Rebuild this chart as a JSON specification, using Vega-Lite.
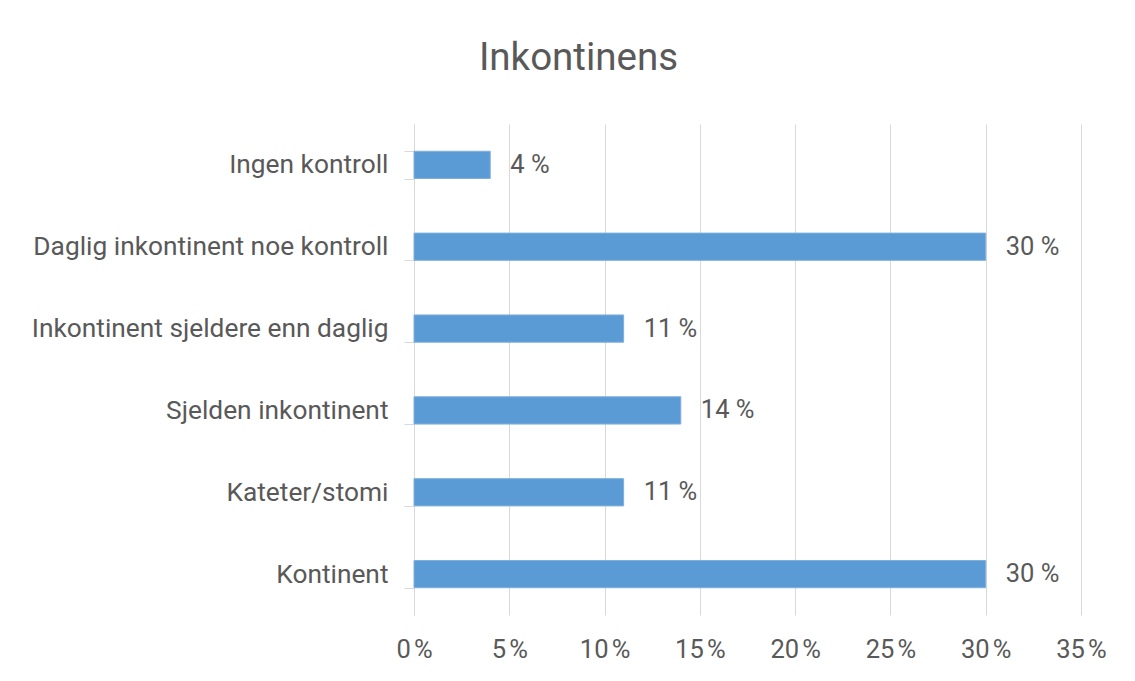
{
  "$schema": "https://vega.github.io/schema/vega-lite/v6.json",
  "autosize": {"type": "none"},
  "width": 667,
  "height": 491,
  "padding": {"left": 414, "top": 124, "right": 54, "bottom": 66},
  "background": "white",
  "title": {
    "text": "Inkontinens",
    "font": "Roboto",
    "fontSize": 38.5,
    "fontWeight": "normal",
    "color": "#595959",
    "anchor": "middle",
    "baseline": "alphabetic",
    "offset": 3,
    "dx": -169
  },
  "config": {
    "view": {"stroke": null},
    "font": "Roboto"
  },
  "data": {
    "values": [
      {"kategori": "Ingen kontroll", "andel": 4, "etikett": "4 %"},
      {"kategori": "Daglig inkontinent noe kontroll", "andel": 30, "etikett": "30 %"},
      {"kategori": "Inkontinent sjeldere enn daglig", "andel": 11, "etikett": "11 %"},
      {"kategori": "Sjelden inkontinent", "andel": 14, "etikett": "14 %"},
      {"kategori": "Kateter/stomi", "andel": 11, "etikett": "11 %"},
      {"kategori": "Kontinent", "andel": 30, "etikett": "30 %"}
    ]
  },
  "encoding": {
    "y": {
      "field": "kategori",
      "type": "nominal",
      "sort": null,
      "scale": {"paddingInner": 0.667, "paddingOuter": 0.333},
      "axis": {
        "title": null,
        "tickBand": "extent",
        "tickSize": 10,
        "tickColor": "#d9d9d9",
        "domainColor": "#d9d9d9",
        "labelFont": "Roboto",
        "labelFontSize": 26.3,
        "labelColor": "#595959",
        "labelPadding": 16,
        "labelLimit": 500,
        "grid": false
      }
    },
    "x": {
      "field": "andel",
      "type": "quantitative",
      "scale": {"domain": [0, 35], "nice": false},
      "axis": {
        "title": null,
        "values": [0, 5, 10, 15, 20, 25, 30, 35],
        "labelExpr": "datum.value + '\u202f%'",
        "domain": false,
        "ticks": false,
        "grid": true,
        "gridColor": "#d9d9d9",
        "labelFont": "Roboto",
        "labelFontSize": 25.5,
        "labelColor": "#595959",
        "labelPadding": 22,
        "labelFlush": false
      }
    }
  },
  "layer": [
    {
      "mark": {"type": "bar", "color": "#5b9bd5", "stroke": "#7fb0dd", "strokeWidth": 1}
    },
    {
      "mark": {"type": "text", "align": "left", "dx": 20, "fontSize": 25.5, "color": "#595959", "font": "Roboto"},
      "encoding": {
        "text": {"field": "etikett", "type": "nominal"}
      }
    }
  ]
}
